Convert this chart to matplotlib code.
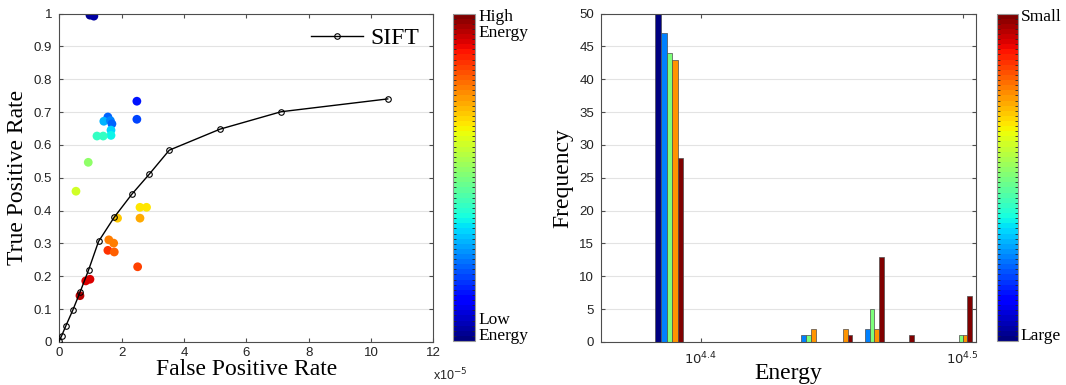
import numpy as np
import matplotlib
matplotlib.use('Agg')
import matplotlib.pyplot as plt
from matplotlib.cm import ScalarMappable
from matplotlib.colors import Normalize
from matplotlib.ticker import NullLocator

# ROC curve of SIFT (false positive rate in units of 1e-5)
sift_fpr = [0.0, 0.077, 0.215, 0.43, 0.664, 0.94, 1.26, 1.765, 2.33, 2.88, 3.53, 5.16, 7.12, 10.54]
sift_tpr = [0.003, 0.019, 0.050, 0.096, 0.151, 0.219, 0.306, 0.380, 0.450, 0.510, 0.584, 0.648, 0.701, 0.740]

# operating points coloured by energy (0 = low, 1 = high)
pt_fpr = [0.985, 1.11, 2.49, 2.49, 1.56, 1.43, 1.64, 1.69, 1.66, 1.66, 1.21, 1.41, 0.93, 0.536,
          1.87, 2.59, 2.80, 2.59, 1.59, 1.745, 1.56, 1.765, 2.515, 0.85, 0.985, 0.664]
pt_tpr = [0.995, 0.992, 0.733, 0.678, 0.685, 0.672, 0.674, 0.664, 0.645, 0.629, 0.627, 0.627, 0.547, 0.459,
          0.377, 0.410, 0.410, 0.377, 0.311, 0.301, 0.279, 0.274, 0.229, 0.186, 0.191, 0.141]
pt_energy = [0.03, 0.04, 0.15, 0.2, 0.22, 0.3, 0.25, 0.23, 0.33, 0.37, 0.42, 0.41, 0.52, 0.6,
             0.7, 0.67, 0.66, 0.72, 0.78, 0.77, 0.85, 0.8, 0.84, 0.92, 0.92, 0.95]

# energy histogram, one list per scale (large -> small)
bin_centers = [24430, 27610, 28400, 29200, 29990, 31580]
counts_large = [50, 0, 0, 0, 0, 0]
counts_s2 = [47, 1, 0, 2, 0, 0]
counts_s3 = [44, 1, 0, 5, 0, 1]
counts_s4 = [43, 2, 2, 2, 0, 1]
counts_small = [28, 0, 1, 13, 1, 7]

SERIF = 'Liberation Serif'
SANS = 'Liberation Sans'
AX_COL = '0.3'
GRID_COL = '#e3e3e3'

plt.rcParams['font.family'] = SANS
plt.rcParams['font.size'] = 9.5

cmap = plt.get_cmap('jet', 64)

fig = plt.figure(figsize=(10.66, 3.85), dpi=100)


def style_axes(ax):
    for sp in ax.spines.values():
        sp.set_color(AX_COL)
        sp.set_linewidth(0.8)
    ax.tick_params(direction='in', top=True, right=True, length=3,
                   color=AX_COL, labelcolor='#222222', labelsize=9.5)
    ax.yaxis.grid(True, color=GRID_COL, linewidth=0.8)
    ax.set_axisbelow(True)


def add_colorbar(rect, top_txt, bottom_txt):
    cax = fig.add_axes(rect)
    sm = ScalarMappable(norm=Normalize(0, 1), cmap=cmap)
    cb = fig.colorbar(sm, cax=cax)
    cb.set_ticks([])
    cb.outline.set_edgecolor('0.6')
    cax.set_yticks(np.linspace(0, 1, 65)[1:-1], minor=True)
    cax.tick_params(which='minor', left=True, right=True, direction='in',
                    length=2.5, width=0.6, color='0.15')
    cax.text(1.15, 1.015, top_txt, transform=cax.transAxes, family=SERIF,
             fontsize=12.5, va='top', ha='left', linespacing=1.0)
    cax.text(1.15, -0.01, bottom_txt, transform=cax.transAxes, family=SERIF,
             fontsize=12.5, va='bottom', ha='left', linespacing=1.0)


# ---- left: ROC ----
ax1 = fig.add_axes([0.0556, 0.1117, 0.3508, 0.8532])
style_axes(ax1)
ax1.scatter(pt_fpr, pt_tpr, c=pt_energy, cmap=cmap, vmin=0, vmax=1, s=40,
            linewidths=0, zorder=2)
ax1.plot(sift_fpr, sift_tpr, '-o', color='black', lw=1.0, ms=4,
         mfc='none', mew=0.8, label='SIFT', zorder=3)
ax1.set_xlim(0, 12)
ax1.set_ylim(0, 1)
ax1.set_xticks(np.arange(0, 13, 2))
ax1.set_yticks(np.arange(0, 1.01, 0.1))
ax1.set_yticklabels(['0'] + ['%.1f' % v for v in np.arange(0.1, 0.95, 0.1)] + ['1'])
ax1.tick_params(axis='y', pad=5)
ax1.set_xlabel('False Positive Rate', family=SERIF, fontsize=17, labelpad=0)
ax1.set_ylabel('True Positive Rate', family=SERIF, fontsize=17, labelpad=4)
ax1.text(1.0, -0.075, 'x10$^{-5}$', transform=ax1.transAxes, fontsize=9,
         ha='left', va='top', color='#222222')
leg = ax1.legend(loc='upper right', frameon=False, prop={'family': SERIF, 'size': 17},
                 handlelength=2.2, borderaxespad=0.2, handletextpad=0.3)

add_colorbar([0.4252, 0.1143, 0.0204, 0.8506], 'High\nEnergy', 'Low\nEnergy')

# ---- right: energy histogram ----
ax2 = fig.add_axes([0.5638, 0.1117, 0.3518, 0.8532])
style_axes(ax2)
series = [counts_large, counts_s2, counts_s3, counts_s4, counts_small]
bar_colors = plt.get_cmap('jet')(np.linspace(0, 1, 5))
bar_w = 120
for i, counts in enumerate(series):
    xs = [c + (i - 2) * bar_w for c, n in zip(bin_centers, counts) if n > 0]
    hs = [n for n in counts if n > 0]
    ax2.bar(xs, hs, width=bar_w, color=bar_colors[i], edgecolor='0.3',
            linewidth=0.5, zorder=2)
ax2.set_xscale('log')
ax2.set_xlim(23000, 32000)
ax2.set_ylim(0, 50)
ax2.set_xticks([10 ** 4.4, 10 ** 4.5])
ax2.set_xticklabels(['$10^{4.4}$', '$10^{4.5}$'])
ax2.xaxis.set_minor_locator(NullLocator())
ax2.tick_params(axis='x', pad=6)
ax2.tick_params(axis='y', pad=5)
ax2.set_yticks(np.arange(0, 51, 5))
ax2.set_xlabel('Energy', family=SERIF, fontsize=17, labelpad=-3)
ax2.set_ylabel('Frequency', family=SERIF, fontsize=17, labelpad=4)

add_colorbar([0.9356, 0.1143, 0.0191, 0.8506], 'Small', 'Large')

fig.savefig('out.png', dpi=100)
